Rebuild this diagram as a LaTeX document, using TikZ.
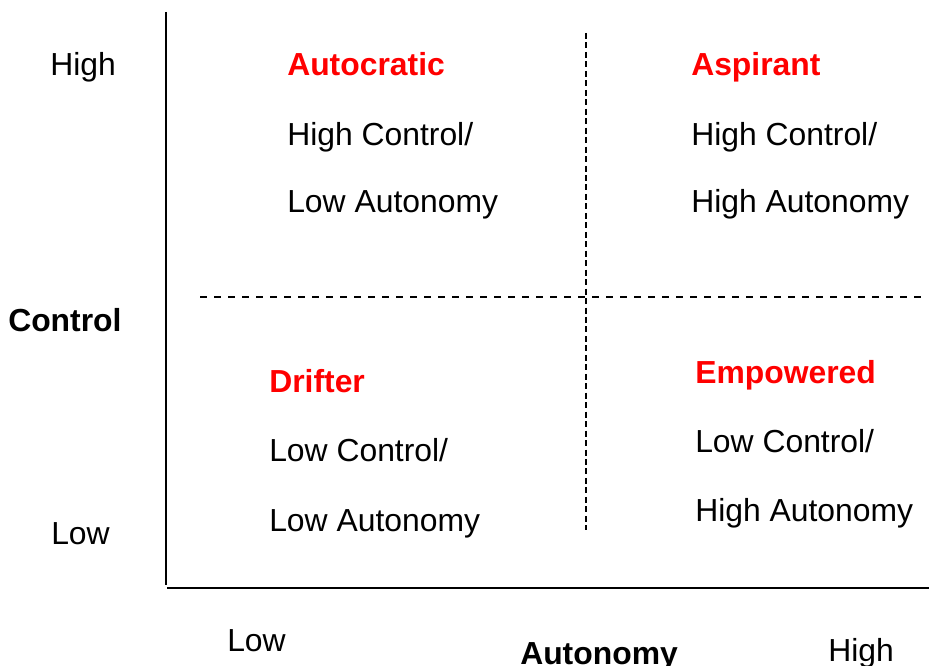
\documentclass[tikz,border=0pt]{standalone}
\usepackage{fontspec}
\setmainfont{Liberation Sans}
\usepackage{tikz}

\begin{document}
\begin{tikzpicture}[x=0.75pt,y=-0.75pt,
	lbl/.style={anchor=base west,inner sep=0pt,font=\fontsize{23.9}{28}\selectfont},
	ttl/.style={lbl,text=red,font=\fontsize{23.9}{28}\selectfont\bfseries},
	axis/.style={line width=1.5pt},
	divider/.style={line width=0.9pt,dash pattern=on 5.5pt off 5pt}]
	\useasboundingbox (0,0) rectangle (929,666);

	%AXES
	\coordinate (ytop) at (166,12);
	\coordinate (ybot) at (166,585);
	\coordinate (xleft) at (167,588.5);
	\coordinate (xright) at (929,588.5);
	\draw[axis] (ytop)--(ybot);
	\draw[axis] (xleft)--(xright);

	%QUADRANT DIVIDERS
	\coordinate (hleft) at (200,297);
	\coordinate (hright) at (923,297);
	\coordinate (vtop) at (586,33);
	\coordinate (vbot) at (586,530);
	\draw[divider] (hleft)--(hright);
	\draw[divider,dash pattern=on 4.5pt off 2.6pt] (vtop)--(vbot);

	%AXIS LABELS
	\node[lbl] (chigh) at (50,76) {High};
	\node[lbl,font=\fontsize{23.9}{28}\selectfont\bfseries] (ctrl) at (8,332) {Control};
	\node[lbl] (clow) at (51,545) {Low};
	\node[lbl] (alow) at (227,652) {Low};
	\node[lbl,font=\fontsize{23.9}{28}\selectfont\bfseries] (auton) at (520,664) {Autonomy};
	\node[lbl] (ahigh) at (828,662) {High};

	%QUADRANTS -- TOP
	\node[ttl] (autoc) at (287,76) {Autocratic};
	\node[lbl] (autoc1) at (287,145.5) {High Control/};
	\node[lbl] (autoc2) at (287,213) {Low Autonomy};
	\node[ttl] (aspir) at (691,76) {Aspirant};
	\node[lbl] (aspir1) at (691,145.5) {High Control/};
	\node[lbl] (aspir2) at (691,213) {High Autonomy};

	%QUADRANTS -- BOTTOM
	\node[ttl] (drift) at (269,393) {Drifter};
	\node[lbl] (drift1) at (269,461.5) {Low Control/};
	\node[lbl] (drift2) at (269,531.5) {Low Autonomy};
	\node[ttl] (empow) at (695,383.5) {Empowered};
	\node[lbl] (empow1) at (695,452.5) {Low Control/};
	\node[lbl] (empow2) at (695,521.5) {High Autonomy};
\end{tikzpicture}
\end{document}
